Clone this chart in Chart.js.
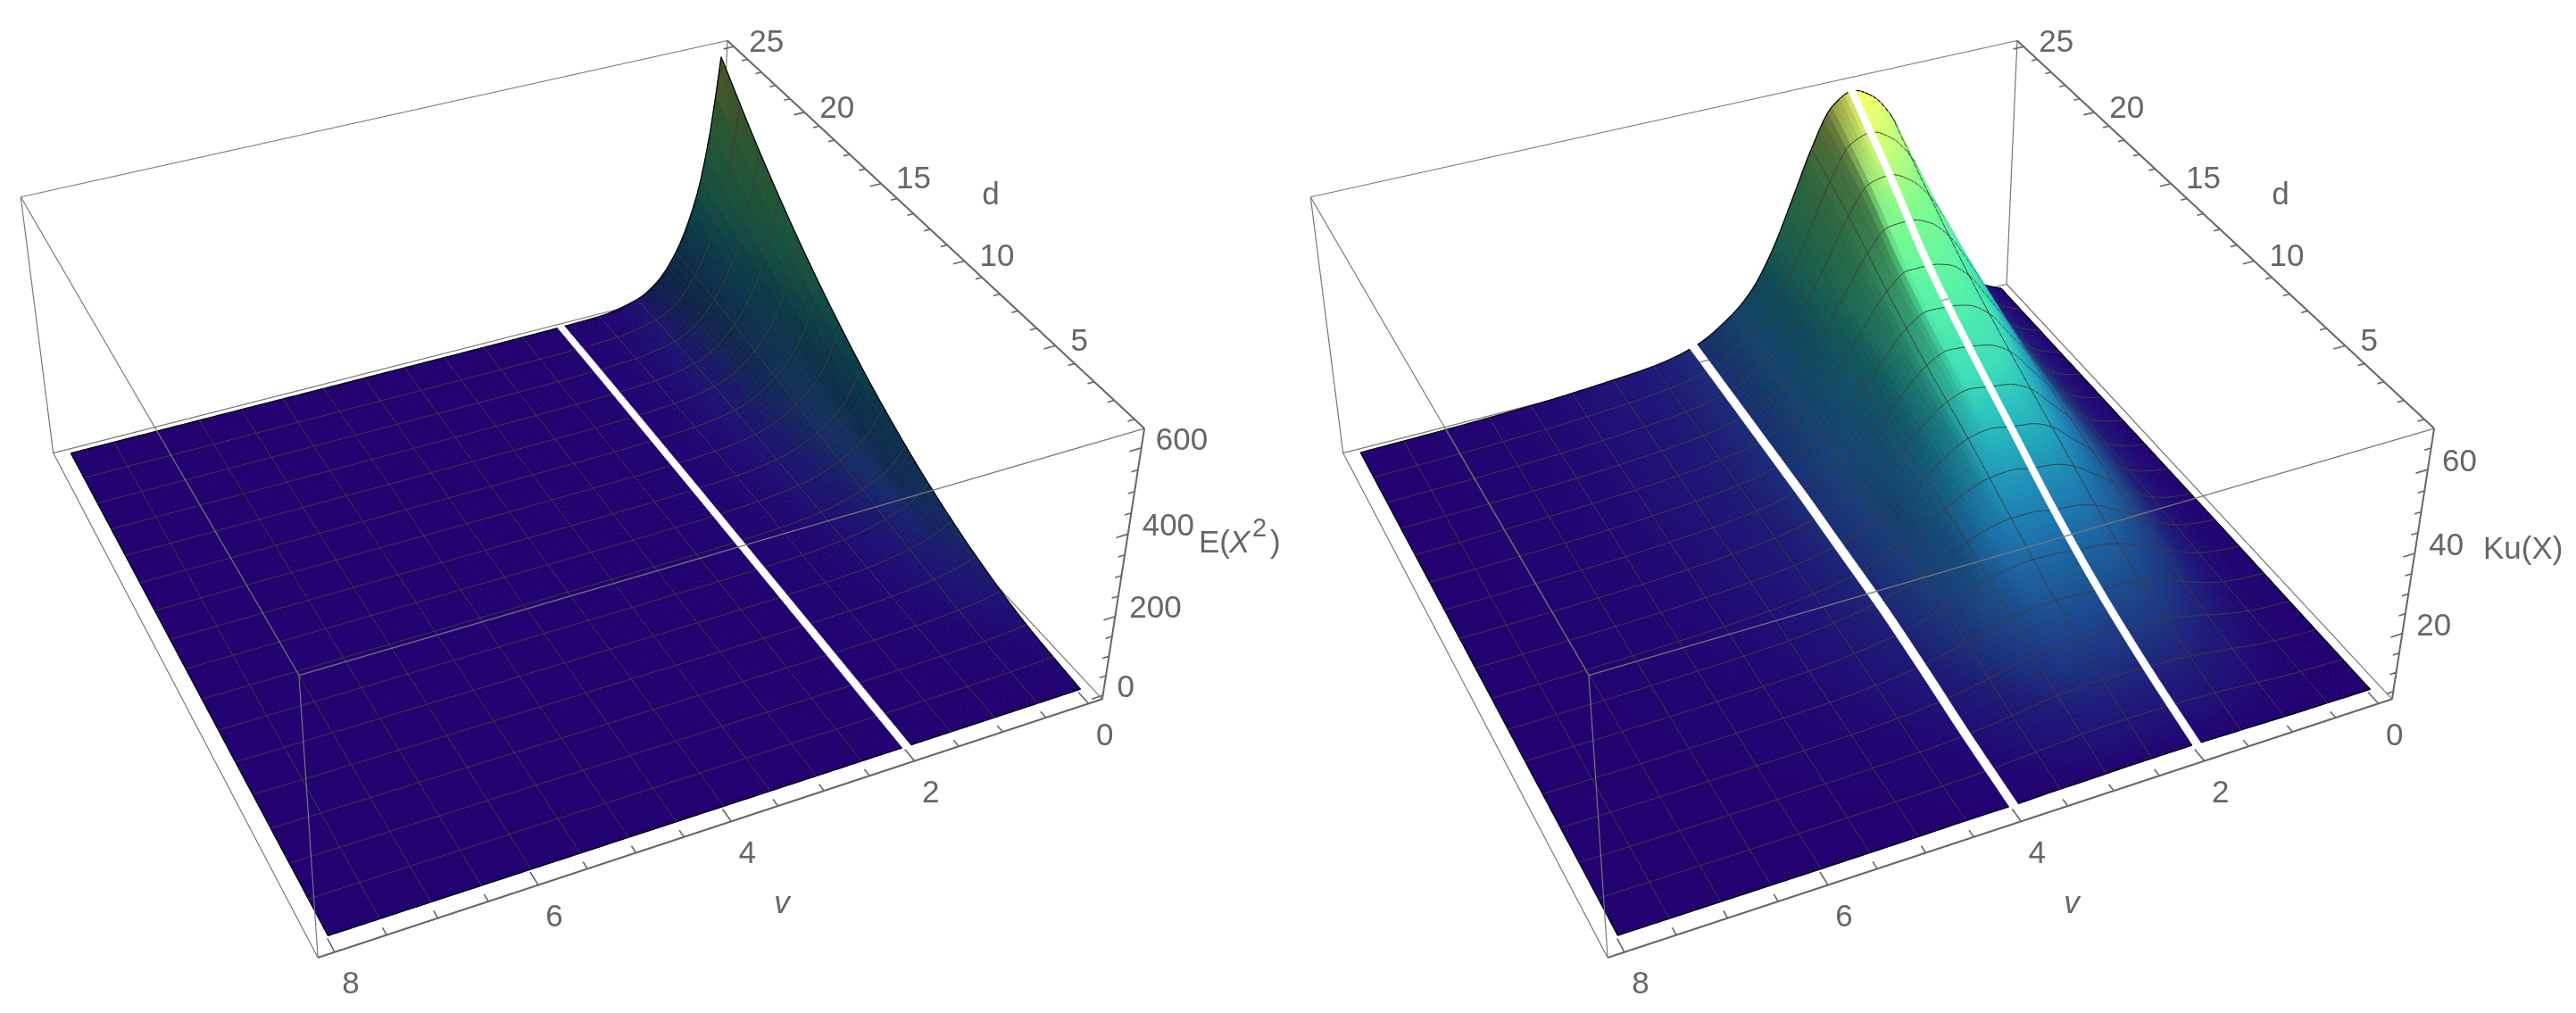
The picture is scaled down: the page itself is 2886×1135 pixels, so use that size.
<!DOCTYPE html>
<html>
<head>
<meta charset="utf-8">
<title>E(X^2) and Ku(X) surfaces</title>
<script src="https://cdn.jsdelivr.net/npm/chart.js@4/dist/chart.umd.min.js"></script>
<style>
  html, body { margin: 0; padding: 0; background: #fff; }
  canvas { position: absolute; top: 0; }
  #leftChart { left: 0; }
  #rightChart { left: 1445px; }
</style>
</head>
<body>
<canvas id="leftChart" width="1441" height="1135"></canvas>
<canvas id="rightChart" width="1441" height="1135"></canvas>
<script>
// values, one row per d
const dGrid = [1, 4, 7, 10, 13, 16, 19, 22, 25];

const secondMomentV = [0, 0.1, 0.25, 0.5, 0.75, 1, 1.5, 2, 2.5, 3, 4, 5, 6, 7, 8];
const secondMoment_d1 = [2, 1.9, 1.8, 1.6, 1.4, 1.3, 1.2, 1.1, 1.1, 1, 1, 1, 1, 1, 1];
const secondMoment_d4 = [16, 14, 11, 8, 5.5, 4, 2.5, 1.8, 1.5, 1.3, 1.2, 1.1, 1.1, 1.05, 1];
const secondMoment_d7 = [49, 41, 31, 21, 13.5, 9, 5, 3, 2, 1.6, 1.4, 1.2, 1.2, 1.1, 1.1];
const secondMoment_d10 = [100, 80, 58, 38, 24, 15, 7, 4, 2.5, 1.9, 1.5, 1.3, 1.2, 1.1, 1.1];
const secondMoment_d13 = [169, 132, 92, 58, 35, 22, 10, 5, 3, 2.2, 1.6, 1.3, 1.2, 1.1, 1.1];
const secondMoment_d16 = [256, 195, 130, 78, 45, 26, 11, 5.5, 3, 2.2, 1.6, 1.4, 1.3, 1.2, 1.1];
const secondMoment_d19 = [361, 270, 175, 98, 52, 29, 11, 5.5, 3, 2.2, 1.6, 1.4, 1.3, 1.2, 1.1];
const secondMoment_d22 = [484, 355, 225, 118, 58, 30, 10, 5, 2.8, 2.1, 1.6, 1.4, 1.3, 1.2, 1.1];
const secondMoment_d25 = [625, 440, 272, 132, 60, 27, 6, 3.5, 2.5, 2, 1.6, 1.4, 1.3, 1.2, 1.1];

const kurtosisV = [0, 0.25, 0.5, 0.75, 1, 1.25, 1.5, 1.75, 2, 2.25, 2.5, 2.75, 3, 3.25, 3.5, 4, 4.5, 5, 6, 7, 8];
const kurtosis_d1 = [4.2, 4.2, 4.3, 4.3, 4.4, 4.5, 4.6, 4.7, 4.8, 4.8, 4.8, 4.8, 4.7, 4.6, 4.6, 4.4, 4.4, 4.3, 4.2, 4.2, 4.2];
const kurtosis_d4 = [4.3, 4.5, 4.9, 5.5, 6.4, 7.2, 8, 8.4, 8.6, 8.9, 9, 8.9, 8.5, 7.8, 7, 5.7, 5, 4.7, 4.4, 4.3, 4.3];
const kurtosis_d7 = [4.4, 4.8, 5.5, 7, 9, 10.7, 12.3, 13.2, 13.5, 14, 14.2, 14, 13, 11.8, 10.2, 7.6, 6.1, 5.3, 4.7, 4.4, 4.3];
const kurtosis_d10 = [4.5, 5.1, 6.4, 8.9, 12.3, 15.2, 18, 19.5, 20, 21, 21, 20, 18, 15, 12.5, 9, 7, 5.8, 4.9, 4.5, 4.3];
const kurtosis_d13 = [4.5, 5.5, 7.3, 11, 16, 20.5, 25, 27.3, 28, 29, 28, 25, 21, 17, 13.5, 9.5, 7.3, 6.2, 5, 4.5, 4.3];
const kurtosis_d16 = [4.5, 5.8, 8.3, 13.3, 20.2, 26.2, 32, 35, 36, 36.5, 34, 29, 23, 18, 14.5, 10, 7.6, 6.4, 5.1, 4.6, 4.3];
const kurtosis_d19 = [4.5, 6.1, 9.4, 15.8, 25, 32.5, 39.7, 43.8, 45, 45, 41, 34, 26, 20, 15.5, 10, 7.7, 6.5, 5.2, 4.6, 4.3];
const kurtosis_d22 = [4.5, 6.5, 10.7, 18.9, 30, 40, 49, 54.5, 57, 56, 49, 39, 29, 21, 16, 10, 7.7, 6.5, 5.2, 4.6, 4.3];
const kurtosis_d25 = [4.5, 7, 12, 22, 35, 47, 59, 65.5, 68, 65, 55.5, 43, 31, 22, 16.5, 10, 7.5, 6.5, 5.2, 4.6, 4.3];

const vTickLabels = [0, 2, 4, 6, 8];
const dTickLabels = [5, 10, 15, 20, 25];
const secondMomentTickLabels = [0, 200, 400, 600];
const kurtosisTickLabels = [20, 40, 60];

// box of the view, in axis units (v and d have Mathematica's 2% padding)
const vRange = [-0.16, 8.16];
const dRange = [0.52, 25.48];

// where the 8 box corners land on the image, used to solve for the camera
const cameraFit = [
  [0, 1, 1, 815, 45], [0, 0, 1, 1282, 480], [1, 0, 1, 334, 757], [1, 1, 1, 24, 221],
  [0, 1, 0, 803, 319], [0, 0, 0, 1235, 783], [1, 0, 0, 357, 1073], [1, 1, 0, 59, 507]
];

const colourStops = [
  [0, 33, 0, 112], [0.01, 33, 3, 113], [0.03, 31, 15, 118], [0.06, 30, 30, 122], [0.09, 28, 50, 128],
  [0.15, 28, 80, 145], [0.22, 28, 110, 170], [0.3, 30, 145, 185], [0.38, 38, 185, 190],
  [0.46, 60, 222, 185], [0.6, 90, 245, 165], [0.75, 130, 252, 140], [0.88, 205, 255, 120], [1, 255, 255, 105]
];

function solveCamera() {
  const n = 11;
  const A = [];
  for (let i = 0; i < n; i++) A.push(new Array(n + 1).fill(0));
  function addRow(row, rhs) {
    for (let i = 0; i < n; i++) {
      for (let j = 0; j < n; j++) A[i][j] += row[i] * row[j];
      A[i][n] += row[i] * rhs;
    }
  }
  cameraFit.forEach(function (c) {
    const x = c[3] / 1000, y = c[4] / 1000;
    addRow([c[0], c[1], c[2], 1, 0, 0, 0, 0, -x * c[0], -x * c[1], -x * c[2]], x);
    addRow([0, 0, 0, 0, c[0], c[1], c[2], 1, -y * c[0], -y * c[1], -y * c[2]], y);
  });
  for (let i = 0; i < n; i++) {
    let best = i;
    for (let r = i + 1; r < n; r++) if (Math.abs(A[r][i]) > Math.abs(A[best][i])) best = r;
    const t = A[i]; A[i] = A[best]; A[best] = t;
    for (let r = 0; r < n; r++) {
      if (r === i) continue;
      const f = A[r][i] / A[i][i];
      for (let k = i; k <= n; k++) A[r][k] -= f * A[i][k];
    }
  }
  return A.map(function (row, i) { return row[n] / row[i]; });
}
const cam = solveCamera();

function det3(a, b, c) {
  return a[0] * (b[1] * c[2] - b[2] * c[1]) - a[1] * (b[0] * c[2] - b[2] * c[0]) + a[2] * (b[0] * c[1] - b[1] * c[0]);
}

// u coordinate of the eye, the painter order of a row goes towards it
function eyeU() {
  const r1 = [cam[0], cam[1], cam[2]], r2 = [cam[4], cam[5], cam[6]], r3 = [cam[8], cam[9], cam[10]];
  const rhs = [-cam[3], -cam[7], -1];
  const det = det3(r1, r2, r3);
  return det3([rhs[0], cam[1], cam[2]], [rhs[1], cam[5], cam[6]], [rhs[2], cam[9], cam[10]]) / det;
}

// cube coordinates -> image coordinates
function project(u, t, h) {
  const w = cam[8] * u + cam[9] * t + cam[10] * h + 1;
  return {
    x: 1000 * (cam[0] * u + cam[1] * t + cam[2] * h + cam[3]) / w,
    y: 1000 * (cam[4] * u + cam[5] * t + cam[6] * h + cam[7]) / w
  };
}

function uOf(v) { return (v - vRange[0]) / (vRange[1] - vRange[0]); }
function tOf(d) { return (d - dRange[0]) / (dRange[1] - dRange[0]); }

function slopes(xs, ys) {
  const n = xs.length;
  const del = [];
  for (let i = 0; i < n - 1; i++) del.push((ys[i + 1] - ys[i]) / (xs[i + 1] - xs[i]));
  const m = [del[0]];
  for (let i = 1; i < n - 1; i++) {
    m.push(del[i - 1] * del[i] <= 0 ? 0 : 2 * del[i - 1] * del[i] / (del[i - 1] + del[i]));
  }
  m.push(del[n - 2]);
  return m;
}

function hermite(xs, ys, m, x) {
  let i = 0;
  while (i < xs.length - 2 && x > xs[i + 1]) i++;
  const len = xs[i + 1] - xs[i];
  const s = (x - xs[i]) / len;
  const s2 = s * s, s3 = s2 * s;
  return (2 * s3 - 3 * s2 + 1) * ys[i] + (s3 - 2 * s2 + s) * len * m[i] +
    (-2 * s3 + 3 * s2) * ys[i + 1] + (s3 - s2) * len * m[i + 1];
}

function colourAt(h, shade) {
  h = Math.max(0, Math.min(1, h));
  let i = 0;
  while (i < colourStops.length - 2 && h > colourStops[i + 1][0]) i++;
  const a = colourStops[i], b = colourStops[i + 1];
  const f = (h - a[0]) / (b[0] - a[0]);
  const c = [1, 2, 3].map(function (k) { return Math.round((a[k] + (b[k] - a[k]) * f) * shade); });
  return "rgb(" + c[0] + "," + c[1] + "," + c[2] + ")";
}

// draws the surface from the dataset's points, through the chart's x and y scales.
// the read rows are only refined here so the shading is smooth, like the tension of a line
class SurfaceController extends Chart.DatasetController {
  update() {}
  draw() {
    const meta = this._cachedMeta;
    const ds = this.getDataset();
    const ctx = this.chart.ctx;
    const px = [], py = [];
    meta._parsed.forEach(function (p) {
      px.push(meta.xScale.getPixelForValue(p.x));
      py.push(meta.yScale.getPixelForValue(p.y));
    });
    ctx.save();
    ctx.lineJoin = "round";
    ds.items.forEach(function (it) {
      ctx.beginPath();
      ctx.moveTo(px[it.ids[0]], py[it.ids[0]]);
      for (let i = 1; i < it.ids.length; i++) ctx.lineTo(px[it.ids[i]], py[it.ids[i]]);
      if (it.fill) {
        ctx.closePath();
        ctx.fillStyle = it.fill;
        ctx.strokeStyle = it.fill;
        ctx.lineWidth = 0.8;
        ctx.fill();
        ctx.stroke();
      } else {
        ctx.strokeStyle = it.stroke;
        ctx.lineWidth = it.width;
        ctx.stroke();
      }
    });
    ctx.restore();
  }
}
SurfaceController.id = "surface";
SurfaceController.defaults = { dataElementType: "point", datasetElementType: false, animation: false };
Chart.register(SurfaceController);

function buildSurface(vGrid, rows, zRange, colourRange, stripes) {
  const stepV = 0.05, stepD = 0.25;
  const nv = Math.round(8 / stepV), nd = Math.round(24 / stepD);
  const rowSlopes = rows.map(function (r) { return slopes(vGrid, r); });
  const pts = [], z = [];
  const id = function (i, j) { return j * (nv + 1) + i; };
  const zBase = zRange[1] - zRange[0];
  for (let i = 0; i <= nv; i++) {
    const v = i * stepV;
    const col = rows.map(function (r, k) { return hermite(vGrid, r, rowSlopes[k], v); });
    const m = slopes(dGrid, col);
    z.push([]);
    for (let j = 0; j <= nd; j++) z[i].push(hermite(dGrid, col, m, 1 + j * stepD));
  }
  for (let j = 0; j <= nd; j++) {
    for (let i = 0; i <= nv; i++) {
      pts.push(project(uOf(i * stepV), tOf(1 + j * stepD), (z[i][j] - zRange[0]) / zBase));
    }
  }
  // height field painter order: far rows first, each row from its ends towards the eye
  const eye = eyeU();
  const columns = [];
  for (let i = 0; i < nv; i++) columns.push(i);
  columns.sort(function (a, b) {
    return Math.abs(uOf((b + 0.5) * stepV) - eye) - Math.abs(uOf((a + 0.5) * stepV) - eye);
  });
  const colRank = [];
  columns.forEach(function (c, k) { colRank[c] = k; });
  const rank = function (i, j) {
    if (i < 0 || j < 0 || i >= nv || j >= nd) return -1;
    return (nd - 1 - j) * (nv + 1) + colRank[i];
  };
  const inStripe = function (v) { return stripes.some(function (s) { return Math.abs(v - s) < 0.05; }); };
  const items = [];
  for (let j = 0; j < nd; j++) {
    for (let i = 0; i < nv; i++) {
      if (inStripe((i + 0.5) * stepV)) continue;
      const zc = (z[i][j] + z[i + 1][j] + z[i + 1][j + 1] + z[i][j + 1]) / 4;
      const dz = (z[i + 1][j] + z[i + 1][j + 1] - z[i][j] - z[i][j + 1]) / 2 / stepV;
      const m = Math.abs(dz / zBase * 8) / 2;
      const shade = dz >= 0 ? 1 : 0.33 + 0.67 / (1 + m * m);
      const h = (zc - colourRange[0]) / (colourRange[1] - colourRange[0]);
      items.push({
        ids: [id(i, j), id(i + 1, j), id(i + 1, j + 1), id(i, j + 1)],
        fill: colourAt(h, shade), key: rank(i, j)
      });
    }
  }
  // mesh lines and the black border go in just after the cells beside them
  const meshColour = "rgb(64,60,58)";
  for (let j = 0; j <= nd; j++) {
    const border = j === 0 || j === nd;
    if (!border && j % 6 !== 0) continue;
    for (let i = 0; i < nv; i++) {
      if (inStripe((i + 0.5) * stepV)) continue;
      items.push({
        ids: [id(i, j), id(i + 1, j)], stroke: border ? "#000" : meshColour, width: border ? 1.2 : 1,
        key: Math.max(rank(i, j), rank(i, j - 1)) + 0.5
      });
    }
  }
  for (let i = 0; i <= nv; i++) {
    const border = i === 0 || i === nv;
    if (!border && i % 10 !== 0) continue;
    if (inStripe(i * stepV)) continue;
    for (let j = 0; j < nd; j++) {
      items.push({
        ids: [id(i, j), id(i, j + 1)], stroke: border ? "#000" : meshColour, width: border ? 1.2 : 1,
        key: Math.max(rank(i, j), rank(i - 1, j)) + 0.5
      });
    }
  }
  items.sort(function (p, q) { return p.key - q.key; });
  return { data: pts.map(function (p) { return { x: p.x, y: p.y }; }), items: items };
}

function polyline(list) {
  const out = [];
  list.forEach(function (seg) {
    seg.forEach(function (c) {
      const p = project(c[0], c[1], c[2]);
      out.push({ x: p.x, y: p.y });
    });
    out.push({ x: null, y: null });
  });
  return out;
}

function lineSet(data, colour, width, order) {
  return {
    type: "scatter", showLine: true, data: data, borderColor: colour, borderWidth: width,
    pointRadius: 0, order: order, spanGaps: false
  };
}

function makePanel(canvasId, vGrid, rows, zRange, colourRange, stripes, zTickLabels, zMinorStep, drawZName) {
  const surface = buildSurface(vGrid, rows, zRange, colourRange, stripes);
  const hOf = function (z) { return (z - zRange[0]) / (zRange[1] - zRange[0]); };

  const back = polyline([
    [[1, 1, 0], [0, 1, 0]], [[0, 1, 0], [0, 1, 1]], [[1, 1, 1], [1, 1, 0]],
    [[0, 1, 0], [0, 0, 0]], [[1, 1, 0], [1, 0, 0]]
  ]);
  const front = polyline([
    [[1, 0, 1], [0, 0, 1]], [[1, 1, 1], [1, 0, 1]], [[1, 0, 1], [1, 0, 0]], [[1, 1, 1], [0, 1, 1]]
  ]);
  const axes = polyline([[[0, 1, 1], [0, 0, 1]], [[0, 0, 1], [0, 0, 0]], [[0, 0, 0], [1, 0, 0]]]);

  const ticks = [];
  for (let v = 0; v <= 8; v += 0.5) {
    const len = v % 2 === 0 ? 0.022 : 0.012;
    ticks.push([[uOf(v), 0, 0], [uOf(v), len, 0]]);
  }
  for (let d = 1; d <= 25; d += 1) {
    const len = d % 5 === 0 ? 0.016 : 0.009;
    ticks.push([[0, tOf(d), 1], [len, tOf(d), 1]]);
  }
  const zMajorStep = zTickLabels[1] - zTickLabels[0];
  for (let z = Math.ceil(zRange[0] / zMinorStep) * zMinorStep; z <= zRange[1]; z += zMinorStep) {
    const len = z % zMajorStep === 0 ? 0.016 : 0.009;
    ticks.push([[0, 0, hOf(z)], [len, 0, hOf(z)]]);
  }

  const labelPlugin = {
    id: "boxLabels",
    afterDatasetsDraw: function (chart) {
      const ctx = chart.ctx;
      const X = chart.scales.x, Y = chart.scales.y;
      const put = function (text, x, y, align) {
        ctx.textAlign = align || "center";
        ctx.fillText(text, X.getPixelForValue(x), Y.getPixelForValue(y));
      };
      ctx.save();
      ctx.fillStyle = "#666666";
      ctx.font = "35px 'Liberation Sans'";
      ctx.textBaseline = "middle";
      vTickLabels.forEach(function (v) {
        const p = project(uOf(v), 0, 0);
        put(String(v), p.x + 18, p.y + 37);
      });
      dTickLabels.forEach(function (d) {
        const p = project(0, tOf(d), 1);
        put(String(d), p.x + 17, p.y - 4, "left");
      });
      zTickLabels.forEach(function (z) {
        const p = project(0, 0, hOf(z));
        put(String(z), p.x + 16, p.y - 8, "left");
      });
      put("d", 1110, 219);
      ctx.font = "italic 35px 'Liberation Sans'";
      put("v", 876, 1013);
      ctx.font = "35px 'Liberation Sans'";
      drawZName(put, ctx);
      ctx.restore();
    }
  };

  return new Chart(document.getElementById(canvasId), {
    type: "scatter",
    data: {
      datasets: [
        { type: "surface", data: surface.data, items: surface.items, order: 2 },
        lineSet(back, "#777777", 1.2, 3),
        lineSet(front, "#777777", 1.2, 1),
        lineSet(axes, "#666666", 2, 0),
        lineSet(polyline(ticks), "#666666", 1.6, 0)
      ]
    },
    options: {
      responsive: false,
      animation: false,
      events: [],
      layout: { padding: 0 },
      plugins: { legend: { display: false }, tooltip: { enabled: false } },
      scales: {
        x: { type: "linear", display: false, min: 0, max: 1441 },
        y: { type: "linear", display: false, min: 0, max: 1135, reverse: true }
      }
    },
    plugins: [labelPlugin]
  });
}

makePanel("leftChart", secondMomentV,
  [secondMoment_d1, secondMoment_d4, secondMoment_d7, secondMoment_d10, secondMoment_d13,
    secondMoment_d16, secondMoment_d19, secondMoment_d22, secondMoment_d25],
  [-10, 644], [0, 644], [2], secondMomentTickLabels, 50,
  function (put, ctx) {
    put("E(", 1343, 609, "left");
    ctx.font = "italic 35px 'Liberation Sans'";
    put("X", 1377, 609, "left");
    ctx.font = "29px 'Liberation Sans'";
    put("2", 1403, 593, "left");
    ctx.font = "35px 'Liberation Sans'";
    put(")", 1423, 609, "left");
  });

makePanel("rightChart", kurtosisV,
  [kurtosis_d1, kurtosis_d4, kurtosis_d7, kurtosis_d10, kurtosis_d13,
    kurtosis_d16, kurtosis_d19, kurtosis_d22, kurtosis_d25],
  [3, 69.5], [4.2, 68], [2, 4], kurtosisTickLabels, 5,
  function (put) {
    put("Ku(X)", 1337, 616, "left");
  });
</script>
</body>
</html>
